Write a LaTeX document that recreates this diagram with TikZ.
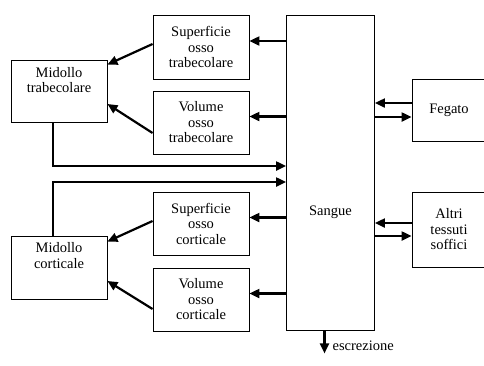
\documentclass[tikz,border=0pt]{standalone}
\usepackage{fontspec}
\setmainfont{Liberation Serif}
\usepackage{tikz}
\usetikzlibrary{arrows.meta,positioning,calc}

\begin{document}
\begin{tikzpicture}[
    x=1pt, y=-1pt,
    >={Triangle[length=10pt,width=9pt]},
    box/.style={draw, line width=0.9pt, align=center, inner sep=1pt,
                font=\fontsize{14.5}{15.5}\selectfont},
    flow/.style={->, line width=2.2pt}
  ]
  \useasboundingbox (0,0) rectangle (484,365);
  % central compartment
  \node[box, minimum width=88, minimum height=315,
        label={[yshift=-40pt, font=\fontsize{14.5}{15.5}\selectfont]center:Sangue}] (sangue) at (330.5,172.5) {};
  \node[box, minimum width=74, minimum height=62] (fegato) at (449,110) {Fegato};
  \node[box, minimum width=74, minimum height=75] (altri) at (449,229.5) {Altri\\tessuti\\soffici};
  % bone compartments
  \node[box, minimum width=96, minimum height=64] (suptrab) at (201,47) {Superficie\\osso\\trabecolare};
  \node[box, minimum width=96, minimum height=63] (voltrab) at (201,122.5) {Volume\\osso\\trabecolare};
  \node[box, minimum width=96, minimum height=63] (supcort) at (201,223.5) {Superficie\\osso\\corticale};
  \node[box, minimum width=96, minimum height=63] (volcort) at (201,299.5) {Volume\\osso\\corticale};
  % marrow
  \node[box, minimum width=96, minimum height=62,
        label={[yshift=11pt, align=center, font=\fontsize{14.5}{15.5}\selectfont]center:Midollo\\trabecolare}] (midtrab) at (59,91) {};
  \node[box, minimum width=96, minimum height=63,
        label={[yshift=12pt, align=center, font=\fontsize{14.5}{15.5}\selectfont]center:Midollo\\corticale}] (midcort) at (59,267.5) {};

  % blood -> bone
  \draw[flow] ([yshift=6pt]sangue.west |- suptrab.east) -- ([yshift=6pt]suptrab.east);
  \draw[flow] ([yshift=6pt]sangue.west |- voltrab.east) -- ([yshift=6pt]voltrab.east);
  \draw[flow] ([yshift=6pt]sangue.west |- supcort.east) -- ([yshift=6pt]supcort.east);
  \draw[flow] ([yshift=6pt]sangue.west |- volcort.east) -- ([yshift=6pt]volcort.east);
  % bone -> marrow
  \draw[flow] ([yshift=3pt]suptrab.west) -- ([yshift=-5pt]midtrab.north east);
  \draw[flow] ([yshift=-10.5pt]voltrab.west) -- ([yshift=-13pt]midtrab.east);
  \draw[flow] ([yshift=2.5pt]supcort.west) -- ([yshift=-6pt]midcort.north east);
  \draw[flow] ([yshift=-9.5pt]volcort.west) -- ([yshift=-13.5pt]midcort.east);
  % marrow -> blood
  \draw[flow] ([xshift=-6pt]midtrab.south) |- ([yshift=6.5pt]sangue.west);
  \draw[flow] ([xshift=-6pt]midcort.north) |- ([yshift=-9.5pt]sangue.west);
  % soft tissues
  \draw[flow] ([yshift=7pt]fegato.west) -- ([yshift=7pt]fegato.west -| sangue.east);
  \draw[flow] ([yshift=-7pt]fegato.west -| sangue.east) -- ([yshift=-7pt]fegato.west);
  \draw[flow] ([yshift=6.5pt]altri.west) -- ([yshift=6.5pt]altri.west -| sangue.east);
  \draw[flow] ([yshift=-6.5pt]altri.west -| sangue.east) -- ([yshift=-6.5pt]altri.west);
  % excretion
  \draw[flow] ([xshift=-6pt]sangue.south) -- ++(0,23) coordinate (escr)
    node[pos=0.65, right=7pt, inner sep=0pt, font=\fontsize{14.5}{15.5}\selectfont] {escrezione};
\end{tikzpicture}
\end{document}
